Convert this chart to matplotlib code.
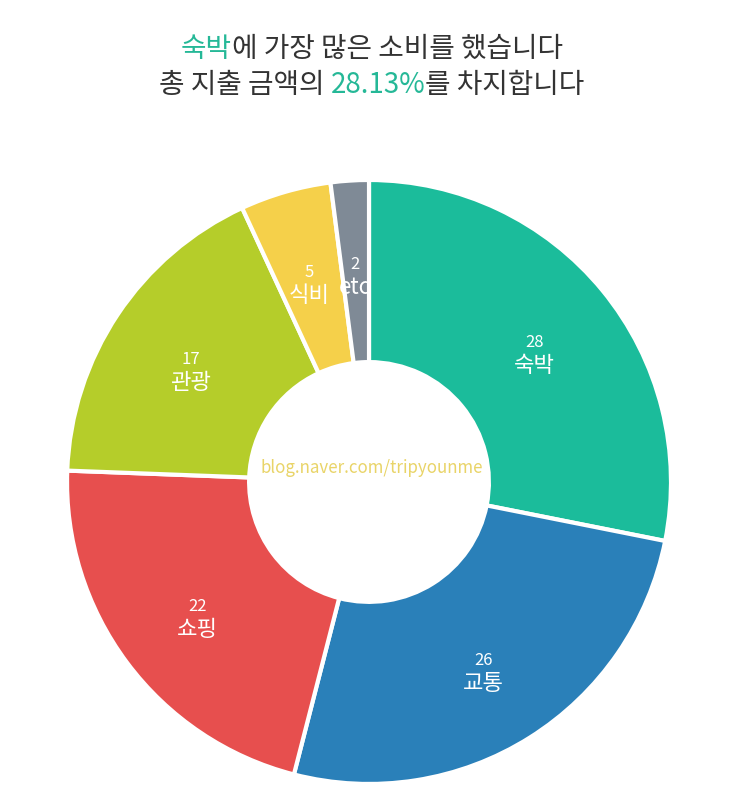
import numpy as np
import matplotlib.pyplot as plt
from matplotlib.offsetbox import TextArea, HPacker, VPacker, AnnotationBbox

plt.rcParams['font.family'] = ['Noto Sans CJK KR', 'DejaVu Sans']

# 여행 지출 비율
labels = ['숙박', '교통', '쇼핑', '관광', '식비', 'etc']
amounts = [28, 26, 22, 17, 5, 2]                    # 조각에 표시된 값
shares = [28.13, 25.87, 21.6, 17.5, 4.86, 2.04]     # 비율(%)
colors = ['#1bbc9b', '#2a80b9', '#e74f4e', '#b5cd2a', '#f5d04a', '#7f8a96']

title_color = '#333333'
accent = '#25b897'

fig = plt.figure(figsize=(7.43, 8.12), dpi=100)
ax = fig.add_axes([0.0902, 0.0333, 0.8129, 0.7438])

wedges, _ = ax.pie(shares, colors=colors, startangle=90, counterclock=False,
                   wedgeprops=dict(width=0.603, edgecolor='white', linewidth=3))
ax.set_xlim(-1, 1)
ax.set_ylim(-1, 1)
ax.set_aspect('equal')

# 조각마다 값과 이름
for w, lab, v in zip(wedges, labels, amounts):
    ang = np.deg2rad((w.theta1 + w.theta2) / 2)
    x = 0.71 * np.cos(ang)
    y = 0.71 * np.sin(ang) - 0.023
    ax.text(x, y + 0.037, str(v), ha='center', va='center', color='white', fontsize=12)
    ax.text(x, y - 0.039, lab, ha='center', va='center', color='white', fontsize=16)

ax.text(0.01, 0.05, 'blog.naver.com/tripyounme', ha='center', va='center',
        color='#e9d468', fontsize=12.2)

# 제목 (색이 섞인 두 줄)
def part(s, c):
    return TextArea(s, textprops=dict(color=c, fontsize=20,
                                      family=['Noto Sans CJK KR', 'DejaVu Sans']))

line1 = HPacker(children=[part('숙박', accent), part('에 가장 많은 소비를 했습니다', title_color)],
                align='baseline', pad=0, sep=0)
line2 = HPacker(children=[part('총 지출 금액의 ', title_color), part('28.13%', accent),
                          part('를 차지합니다', title_color)],
                align='baseline', pad=0, sep=0)
block = VPacker(children=[line1, line2], align='center', pad=0, sep=5)
ab = AnnotationBbox(block, (0.5, 1 - 67 / 812), xycoords='figure fraction',
                    frameon=False, box_alignment=(0.5, 0.5))
fig.add_artist(ab)

fig.savefig('out.png', dpi=100, facecolor='white')
